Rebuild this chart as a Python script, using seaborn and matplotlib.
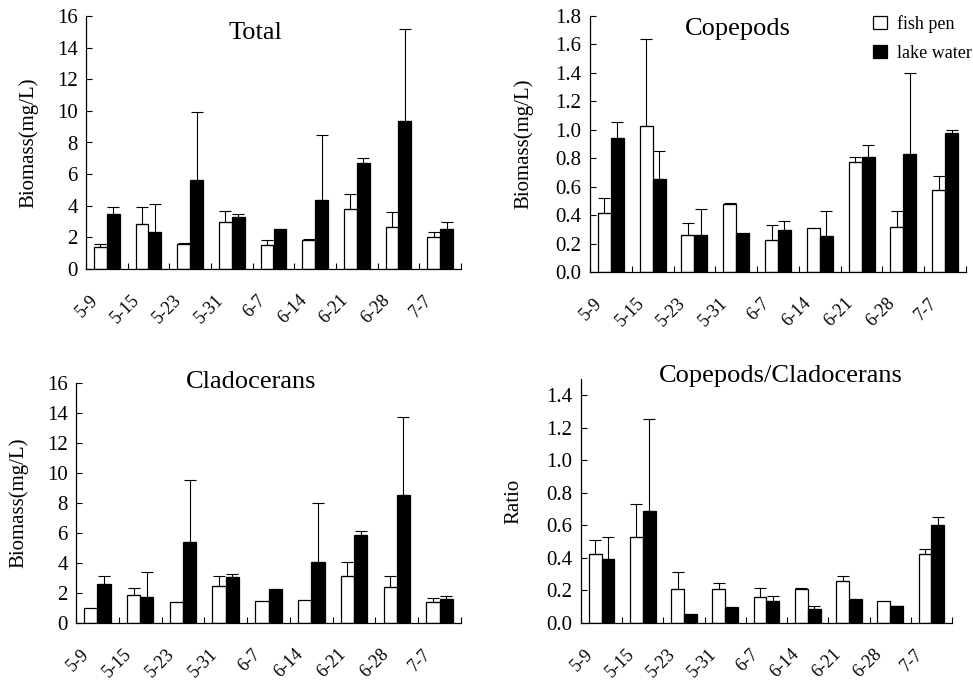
import numpy as np
import pandas as pd
import matplotlib
matplotlib.use("Agg")
import matplotlib.pyplot as plt
import matplotlib.transforms as mtransforms
import seaborn as sns

dates = ["5-9", "5-15", "5-23", "5-31", "6-7", "6-14", "6-21", "6-28", "7-7"]
sites = ["fish pen", "lake water"]

total_fish = [1.39, 2.84, 1.58, 2.97, 1.54, 1.85, 3.79, 2.63, 2.0]
total_fish_err = [0.19, 1.05, 0.06, 0.71, 0.27, 0.05, 0.97, 0.97, 0.32]
total_lake = [3.49, 2.34, 5.6, 3.26, 2.53, 4.36, 6.69, 9.35, 2.53]
total_lake_err = [0.43, 1.79, 4.36, 0.21, 0.0, 4.12, 0.3, 5.81, 0.44]

cope_fish = [0.418, 1.03, 0.26, 0.477, 0.228, 0.31, 0.772, 0.319, 0.58]
cope_fish_err = [0.102, 0.606, 0.085, 0.011, 0.103, 0.0, 0.038, 0.108, 0.096]
cope_lake = [0.94, 0.655, 0.26, 0.275, 0.298, 0.254, 0.81, 0.829, 0.974]
cope_lake_err = [0.116, 0.197, 0.18, 0.0, 0.059, 0.173, 0.08, 0.571, 0.024]

clad_fish = [1.02, 1.88, 1.42, 2.44, 1.46, 1.53, 3.15, 2.37, 1.37]
clad_fish_err = [0.0, 0.45, 0.0, 0.71, 0.0, 0.0, 0.91, 0.78, 0.32]
clad_lake = [2.62, 1.71, 5.39, 3.04, 2.24, 4.06, 5.85, 8.51, 1.57]
clad_lake_err = [0.53, 1.66, 4.12, 0.22, 0.0, 3.97, 0.31, 5.24, 0.23]

ratio_fish = [0.425, 0.528, 0.207, 0.207, 0.158, 0.207, 0.259, 0.136, 0.425]
ratio_fish_err = [0.084, 0.201, 0.105, 0.041, 0.06, 0.009, 0.033, 0.0, 0.031]
ratio_lake = [0.394, 0.686, 0.053, 0.097, 0.138, 0.088, 0.148, 0.103, 0.602]
ratio_lake_err = [0.134, 0.567, 0.0, 0.0, 0.03, 0.015, 0.0, 0.004, 0.051]

sns.set_theme(style="ticks")
plt.rcParams["font.family"] = ["Liberation Serif", "DejaVu Serif"]
plt.rcParams["text.color"] = "black"
plt.rcParams["axes.labelcolor"] = "black"
plt.rcParams["xtick.color"] = "black"
plt.rcParams["ytick.color"] = "black"

W, H = 973, 680
fig = plt.figure(figsize=(W / 100, H / 100), dpi=100)


def px_axes(left, right, top, bottom):
    return fig.add_axes([left / W, 1 - bottom / H, (right - left) / W, (bottom - top) / H])


def panel(ax, fish, fish_err, lake, lake_err, ylim, yticks, yfmt, ylabel, title, tx, ty, legend=False):
    df = pd.DataFrame({
        "date": dates * 2,
        "site": [sites[0]] * len(dates) + [sites[1]] * len(dates),
        "value": list(fish) + list(lake),
    })
    sns.barplot(data=df, x="date", y="value", hue="site", order=dates, hue_order=sites,
                palette={sites[0]: "white", sites[1]: "black"}, edgecolor="black",
                linewidth=0.9, width=0.62, errorbar=None, legend=legend, ax=ax)
    for cont, vals, errs in zip(ax.containers, [fish, lake], [fish_err, lake_err]):
        xs, ys, es = [], [], []
        for p, v, e in zip(cont.patches, vals, errs):
            if e > 0:
                xs.append(p.get_x() + p.get_width() / 2)
                ys.append(v)
                es.append(e)
        ax.errorbar(xs, ys, yerr=[np.zeros(len(es)), es], fmt="none", ecolor="black",
                    elinewidth=0.8, capsize=4.6, capthick=0.8)
    ax.set_xlim(-0.5, len(dates) - 0.5)
    ax.set_ylim(*ylim)
    ax.set_yticks(yticks)
    ax.set_yticklabels([yfmt.format(t) for t in yticks], fontsize=15)
    ax.set_xticks(np.arange(len(dates) + 1) - 0.5)
    ax.set_xticklabels([])
    ax.set_xticks(np.arange(len(dates)), dates, minor=True)
    ax.tick_params(axis="both", which="major", direction="in", length=4, width=0.8, color="black")
    ax.tick_params(axis="y", which="major", pad=6)
    ax.tick_params(axis="x", which="minor", length=0, pad=16.5)
    offset = mtransforms.ScaledTranslation(-5 / 100, 0, fig.dpi_scale_trans)
    for lab in ax.get_xticklabels(minor=True):
        lab.set_rotation(45)
        lab.set_ha("right")
        lab.set_va("top")
        lab.set_fontsize(13)
        lab.set_transform(lab.get_transform() + offset)
    ax.set_xlabel("")
    ax.set_ylabel(ylabel, fontsize=15)
    for s in ["top", "right"]:
        ax.spines[s].set_visible(False)
    for s in ["left", "bottom"]:
        ax.spines[s].set_color("black")
        ax.spines[s].set_linewidth(0.9)
    ax.text(tx, ty, title, transform=ax.transAxes, ha="center", va="center", fontsize=19)


ax1 = px_axes(86, 461, 16, 269)
panel(ax1, total_fish, total_fish_err, total_lake, total_lake_err, (0, 16), np.arange(0, 17, 2),
      "{:.0f}", "Biomass(mg/L)", "Total", 0.453, 0.933)

ax2 = px_axes(590, 966, 16, 272)
panel(ax2, cope_fish, cope_fish_err, cope_lake, cope_lake_err, (0, 1.8), np.arange(0, 1.81, 0.2),
      "{:.1f}", "Biomass(mg/L)", "Copepods", 0.394, 0.949, legend=True)
sns.move_legend(ax2, "upper left", bbox_to_anchor=(873 / W, 1 - 15 / H),
                bbox_transform=fig.transFigure, frameon=False, title=None, fontsize=13,
                handlelength=0.75, handleheight=0.75, handletextpad=0.6,
                labelspacing=0.68, borderpad=0, borderaxespad=0)

ax3 = px_axes(76, 461, 383, 623)
panel(ax3, clad_fish, clad_fish_err, clad_lake, clad_lake_err, (0, 16), np.arange(0, 17, 2),
      "{:.0f}", "Biomass(mg/L)", "Cladocerans", 0.455, 1.004)

ax4 = px_axes(581, 952, 379, 623)
panel(ax4, ratio_fish, ratio_fish_err, ratio_lake, ratio_lake_err, (0, 1.5), np.arange(0, 1.41, 0.2),
      "{:.1f}", "Ratio", "Copepods/Cladocerans", 0.539, 1.012)

# y label right edges (pixels)
for ax, xpos in [(ax1, 38), (ax2, 533), (ax3, 28), (ax4, 523)]:
    ax.yaxis.set_label_coords(xpos / W, 0.5, transform=fig.transFigure)
    ax.yaxis.label.set_transform(mtransforms.blended_transform_factory(fig.transFigure, ax.transAxes))

fig.savefig("out.png", dpi=100, facecolor="white")
